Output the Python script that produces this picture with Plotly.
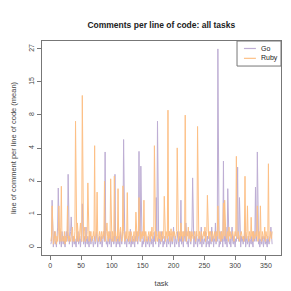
import numpy as np
import plotly.graph_objects as go

tasks = list(range(1, 361))

go_vals = [
    0.05, 0.1, 1.2, 0.2, 0.0, 0.15, 0.3, 0.05, 0.1, 0.0, 0.2, 0.4, 1.7, 0.1, 0.05, 0.25, 0.1, 0.0, 0.3, 0.1,
    0.05, 0.2, 0.1, 0.0, 0.15, 0.3, 0.1, 0.2, 2.4, 0.1, 0.05, 0.2, 0.3, 0.66, 0.1, 0.0, 0.2, 0.1, 0.05, 0.15,
    0.1, 0.0, 0.2, 0.1, 0.3, 0.05, 0.1, 0.2, 0.0, 0.15, 0.1, 1.07, 0.2, 0.05, 0.1, 0.2, 0.0, 0.4, 0.1, 0.05,
    0.2, 0.1, 0.0, 0.3, 0.1, 0.05, 0.15, 0.2, 0.1, 0.0, 0.1, 0.2, 0.05, 0.1, 0.3, 0.1, 0.0, 0.15, 0.1, 0.2,
    0.05, 0.1, 0.2, 0.0, 0.1, 0.15, 0.3, 0.1, 3.95, 0.2, 0.05, 0.1, 0.0, 0.2, 0.1, 0.05, 0.3, 0.1, 0.0, 0.15,
    0.1, 0.2, 0.05, 0.1, 2.4, 0.2, 0.0, 0.1, 0.15, 0.05, 0.2, 0.1, 0.0, 0.3, 0.1, 0.05, 0.2, 0.4, 5.1, 0.1,
    0.05, 0.2, 0.1, 0.0, 0.15, 0.1, 0.2, 0.05, 0.1, 0.35, 0.0, 0.1, 0.2, 0.05, 0.15, 0.1, 0.0, 0.2, 0.1, 0.3,
    0.1, 0.05, 0.2, 4.0, 0.3, 0.1, 2.9, 0.2, 0.0, 0.1, 0.05, 0.2, 0.3, 0.1, 0.0, 0.15, 0.1, 0.05, 0.2, 0.1,
    0.0, 0.1, 0.2, 0.05, 0.15, 0.1, 0.0, 0.2, 0.1, 0.3, 0.05, 1.3, 0.2, 7.3, 0.1, 0.0, 0.15, 0.1, 0.05, 0.3,
    0.1, 0.2, 0.0, 0.1, 0.05, 0.2, 0.15, 0.1, 0.0, 0.2, 0.1, 0.05, 0.3, 0.1, 0.0, 0.2, 0.1, 0.05, 0.15, 0.4,
    0.1, 0.0, 0.2, 0.1, 0.05, 0.15, 0.3, 0.1, 0.0, 0.2, 0.1, 1.2, 0.05, 0.2, 0.1, 0.0, 0.3, 0.15, 0.1, 0.5,
    0.2, 0.05, 0.1, 0.0, 0.2, 0.3, 0.1, 0.05, 0.15, 0.4, 2.2, 0.1, 0.0, 0.2, 0.1, 0.05, 0.3, 0.1, 0.0, 0.15,
    0.1, 0.2, 0.05, 0.1, 0.4, 0.0, 0.2, 0.1, 0.05, 0.15, 0.1, 0.3, 0.0, 0.1, 0.2, 0.05, 0.1, 0.0, 0.2, 0.1,
    0.05, 0.4, 0.1, 0.2, 0.0, 0.15, 0.1, 0.5, 0.05, 0.2, 0.1, 27.0, 0.2, 0.0, 0.1, 0.05, 0.3, 0.1, 0.2, 0.0,
    3.25, 0.1, 0.2, 0.05, 0.4, 0.1, 0.0, 1.67, 0.2, 0.1, 0.05, 0.15, 0.0, 0.2, 0.4, 0.1, 0.05, 0.2, 0.1, 0.0,
    0.15, 0.1, 0.3, 2.84, 0.2, 0.1, 1.3, 0.05, 0.0, 0.2, 0.1, 0.15, 0.05, 0.2, 0.1, 0.5, 0.0, 0.1, 0.2, 0.05,
    0.1, 0.2, 0.0, 0.15, 0.1, 0.05, 0.2, 0.1, 0.0, 0.3, 0.1, 0.2, 1.74, 0.1, 0.2, 3.95, 0.1, 0.05, 0.2, 0.0,
    0.1, 0.15, 0.05, 0.2, 0.1, 0.0, 0.2, 0.1, 0.05, 0.15, 0.1, 0.0, 0.2, 0.1, 0.05, 0.15, 0.2, 0.4, 0.1, 0.05,
]

ruby_vals = [
    0.1, 0.2, 1.0, 0.15, 0.05, 0.1, 0.2, 0.3, 0.1, 0.05, 0.2, 0.1, 0.3, 1.0, 0.2, 0.1, 0.4, 1.78, 0.1, 0.2,
    0.15, 0.1, 0.3, 0.05, 0.2, 0.1, 0.2, 1.0, 0.3, 0.1, 0.2, 0.15, 0.1, 0.2, 0.3, 0.4, 0.1, 0.2, 0.1, 0.3,
    7.3, 0.2, 0.1, 0.5, 0.2, 0.1, 0.15, 0.3, 0.5, 0.2, 0.1, 11.8, 0.2, 0.1, 0.3, 0.4, 0.1, 0.2, 0.15, 0.3,
    1.94, 0.2, 0.1, 0.3, 0.2, 0.3, 0.1, 0.2, 0.15, 0.3, 0.2, 4.5, 0.1, 0.2, 0.3, 1.52, 0.2, 0.1, 0.2, 0.3,
    0.2, 0.1, 0.3, 0.2, 0.15, 0.3, 0.2, 2.02, 0.1, 0.2, 0.3, 0.5, 0.2, 0.1, 0.3, 0.2, 0.15, 2.15, 0.2, 0.1,
    0.3, 0.2, 0.1, 2.3, 0.2, 0.3, 0.1, 0.2, 0.15, 1.67, 0.2, 0.1, 0.3, 0.4, 0.2, 0.1, 0.2, 1.8, 0.3, 0.2,
    0.1, 0.2, 0.3, 0.15, 1.5, 0.2, 0.1, 0.3, 0.2, 0.1, 0.3, 0.2, 0.15, 0.1, 0.2, 0.3, 0.1, 0.2, 0.8, 0.2,
    0.1, 0.3, 0.2, 1.3, 0.2, 0.1, 0.3, 0.2, 0.15, 0.3, 0.2, 1.2, 0.1, 0.2, 0.3, 0.2, 0.1, 0.15, 0.2, 0.3,
    0.2, 0.1, 0.3, 0.2, 0.4, 0.15, 0.2, 0.3, 4.5, 0.2, 0.1, 0.3, 0.2, 0.1, 0.2, 0.3, 0.15, 0.3, 0.2, 0.1,
    0.2, 0.3, 0.15, 0.2, 1.35, 0.2, 0.1, 0.3, 0.2, 0.15, 9.0, 0.2, 0.3, 0.1, 0.2, 0.36, 0.2, 0.1, 0.3, 0.2,
    0.3, 0.2, 0.15, 0.2, 0.3, 4.3, 0.2, 0.1, 0.3, 0.2, 0.15, 0.5, 0.2, 0.3, 0.1, 0.2, 0.3, 0.2, 8.2, 0.2,
    0.1, 0.3, 0.2, 0.4, 0.15, 0.2, 0.3, 0.1, 0.2, 0.3, 0.2, 0.15, 0.2, 0.3, 0.2, 0.1, 0.3, 0.2, 6.6, 0.2,
    0.15, 0.3, 0.2, 0.1, 0.3, 0.2, 0.15, 0.2, 0.3, 0.2, 0.4, 0.1, 0.2, 0.3, 1.39, 0.2, 0.15, 0.3, 0.2, 0.3,
    0.2, 0.1, 0.3, 0.2, 0.15, 0.2, 0.3, 0.2, 0.1, 0.3, 0.2, 1.0, 0.2, 0.15, 0.3, 0.2, 0.1, 0.3, 0.2, 0.15,
    1.1, 0.2, 1.2, 0.3, 0.2, 0.15, 0.2, 0.3, 0.1, 0.4, 0.2, 0.3, 0.15, 0.2, 0.3, 0.3, 0.2, 0.1, 0.2, 0.3,
    0.2, 3.6, 0.2, 0.15, 0.3, 0.2, 0.1, 0.2, 0.3, 0.3, 0.2, 0.15, 0.2, 0.1, 0.3, 2.29, 0.2, 0.15, 0.3, 1.0,
    0.2, 0.1, 0.3, 0.2, 0.15, 0.65, 0.2, 0.3, 0.1, 0.3, 0.2, 0.15, 0.2, 0.3, 0.2, 1.0, 0.1, 0.2, 0.3, 0.15,
    1.0, 0.2, 0.1, 0.3, 0.2, 0.15, 0.2, 0.4, 0.1, 0.3, 0.2, 0.15, 0.2, 3.06, 0.2, 0.1, 0.3, 0.2, 0.15, 0.3,
]

series_names = ["Go", "Ruby"]
series_colors = ["#beaed4", "#fdc086"]
y_tick_labels = ["0", "1", "2", "4", "8", "15", "27"]
x_tick_vals = [0, 50, 100, 150, 200, 250, 300, 350]

# y axis is log(1 + value); ticks evenly spaced in transformed space
ymax_t = np.log1p(27.0)
y_tick_pos = [ymax_t * i / 6 for i in range(7)]

FONT = "Liberation Sans, Arial, sans-serif"
TXT = "#444444"
LINE = "#777777"

fig = go.Figure()
for name, vals, col in zip(series_names, [go_vals, ruby_vals], series_colors):
    fig.add_trace(go.Scatter(x=tasks, y=np.log1p(vals), mode="lines", name=name,
                             line=dict(color=col, width=1), showlegend=False))

# compact R-style legend box (top right of plot area)
shapes = [dict(type="rect", xref="paper", yref="paper", x0=0.816, x1=1.0, y0=0.883, y1=1.0,
               line=dict(color=LINE, width=1), fillcolor="white", layer="above")]
annotations = []
for i, (name, col) in enumerate(zip(series_names, series_colors)):
    yy = 0.965 - i * 0.046
    shapes.append(dict(type="line", xref="paper", yref="paper", x0=0.845, x1=0.895, y0=yy, y1=yy,
                       line=dict(color=col, width=1.2), layer="above"))
    annotations.append(dict(xref="paper", yref="paper", x=0.91, y=yy, text=name, showarrow=False,
                            xanchor="left", yanchor="middle", font=dict(size=7, color="#222222")))

ext = 0.04 * ymax_t
fig.update_layout(
    width=291, height=291,
    margin=dict(l=34, r=18, t=33, b=44),
    paper_bgcolor="white", plot_bgcolor="white",
    font=dict(family=FONT, size=7, color=TXT),
    title=dict(text="<b>Comments per line of code: all tasks</b>", x=0.527, xanchor="center",
               y=0.943, yanchor="middle", font=dict(size=8.5, color="#222222")),
    showlegend=False,
    shapes=shapes,
    annotations=annotations,
    xaxis=dict(range=[-13.4, 374.4], tickvals=x_tick_vals, ticks="outside", ticklen=4,
               tickcolor=LINE, showline=True, linecolor=LINE, linewidth=1, mirror=True,
               showgrid=False, zeroline=False, tickfont=dict(size=7, color=TXT), automargin=False,
               title=dict(text="task", font=dict(size=7.5, color=TXT), standoff=12)),
    yaxis=dict(range=[-ext, ymax_t + ext], tickvals=y_tick_pos, ticktext=y_tick_labels,
               ticks="outside", ticklen=4, tickcolor=LINE, tickangle=-90, automargin=False,
               showline=True, linecolor=LINE, linewidth=1, mirror=True,
               showgrid=False, zeroline=False, tickfont=dict(size=7, color=TXT),
               title=dict(text="line of comment per line of code (mean)",
                          font=dict(size=7.5, color=TXT), standoff=10)),
)

fig.write_html("out.html")
